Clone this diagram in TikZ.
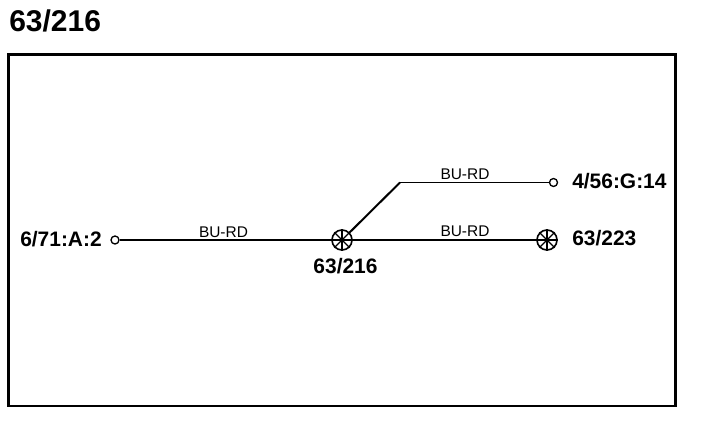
\documentclass[tikz,border=0pt]{standalone}
\usepackage{fontspec}
\setmainfont{Liberation Sans}
\tikzset{
  splice/.style={circle, draw, line width=1.2pt, minimum size=15pt, inner sep=0pt},
  pin/.style={circle, draw, line width=1pt, minimum size=6pt, inner sep=0pt},
  wire/.style={line width=1.5pt},
  wirelabel/.style={font=\fontsize{11.6}{12}\selectfont, inner sep=0pt},
  tag/.style={font=\bfseries\fontsize{15.7}{16}\selectfont, inner sep=0pt}
}
\begin{document}
\begin{tikzpicture}[x=0.75pt, y=-0.75pt]
\useasboundingbox (0, 0) rectangle (704, 422);
\node [font=\bfseries\fontsize{22.5}{23}\selectfont, inner sep=0pt, anchor=west] (title) at (9, 21) {63/216};
\draw [line width=2.2pt] (8.5, 54.5) rectangle (675.5, 406);
\node [pin] (left) at (115, 240) {};
\node [pin] (upper) at (553.5, 182.5) {};
\node [splice] (mid) at (342, 240) {};
\node [splice] (right) at (547, 240) {};
\path (400, 182.5) coordinate (bend);
\foreach \a in {0, 45, 90, 135} {
  \draw [line width=1pt] (mid.\a) -- (mid.\a+180);
  \draw [line width=1pt] (right.\a) -- (right.\a+180);
}
\draw [wire] (left) -- (mid);
\draw [wire] (mid) -- (right);
\draw [wire] (mid) -- (bend);
\draw [line width=0.8pt] (bend) -- (upper);
\node [wirelabel] (wa) at (223.5, 232) {BU-RD};
\node [wirelabel] (wb) at (465, 174) {BU-RD};
\node [wirelabel] (wc) at (465, 231.5) {BU-RD};
\node [tag, anchor=east] (leftname) at (102, 239.5) {6/71:A:2};
\node [tag, anchor=west] (uppername) at (572, 181) {4/56:G:14};
\node [tag, anchor=west] (rightname) at (572, 238.5) {63/223};
\node [tag] (midname) at (345.5, 266) {63/216};
\end{tikzpicture}
\end{document}
